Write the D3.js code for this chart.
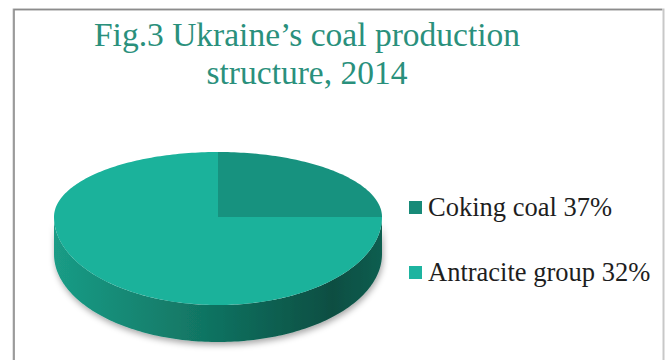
<!DOCTYPE html>
<html>
<head>
<meta charset="utf-8">
<script src="https://cdn.jsdelivr.net/npm/d3@7"></script>
<style>
  body { margin: 0; background: #fff; }
  svg { display: block; }
</style>
</head>
<body>
<svg width="669" height="360"></svg>
<script>
const titleLines = ["Fig.3 Ukraine\u2019s coal production", "structure, 2014"];
const categories = ["Coking coal", "Antracite group"];
const labelPercents = [37, 32];
// shares as drawn in the pie
const sliceShares = [25, 75];
const sliceColors = ["#17927f", "#1bb29b"];
const legendColors = ["#178a78", "#1db4a0"];

const svg = d3.select("svg");
const width = 669, height = 360;

// frame
svg.append("rect")
   .attr("x", 13.5).attr("y", 9.5)
   .attr("width", 650).attr("height", 360)
   .attr("fill", "#fff")
   .attr("stroke", "#c8c8c8")
   .attr("stroke-width", 2);
svg.append("path")
   .attr("d", "M14,360 V9.5 H662")
   .attr("fill", "none")
   .attr("stroke", "#8c8c8c")
   .attr("stroke-width", 1.5);

// title
svg.append("text")
   .attr("x", 307).attr("y", 46)
   .attr("text-anchor", "middle")
   .style("font-family", "'Liberation Serif', 'Times New Roman', serif")
   .style("font-size", "33.5px")
   .attr("fill", "#2a907c")
   .selectAll("tspan")
   .data(titleLines)
   .enter()
   .append("tspan")
   .attr("x", 307)
   .attr("dy", (d, i) => i == 0 ? 0 : 38)
   .text(d => d);

// pie geometry
const pie_area = {
    cx: 218,
    cy: 217,
    rx: 164,
    ryTop: 65,
    ryBot: 88,
    depth: 37
};

const pt = (a, dy = 0) => {
    const c = Math.cos(a);
    const ry = c > 0 ? pie_area.ryTop : pie_area.ryBot;
    return [pie_area.cx + pie_area.rx * Math.sin(a), pie_area.cy - ry * c + dy];
};

const arcPoints = (a0, a1, dy = 0) => {
    const n = Math.max(2, Math.ceil((a1 - a0) / 0.02));
    return d3.range(n + 1).map(i => pt(a0 + (a1 - a0) * i / n, dy));
};

const line = d3.line();

const defs = svg.append("defs");
const grad = defs.append("linearGradient")
    .attr("id", "sideGrad")
    .attr("gradientUnits", "userSpaceOnUse")
    .attr("x1", pie_area.cx - pie_area.rx).attr("x2", pie_area.cx + pie_area.rx)
    .attr("y1", 0).attr("y2", 0);
grad.append("stop").attr("offset", "0%").attr("stop-color", "#1a9c86");
grad.append("stop").attr("offset", "45%").attr("stop-color", "#117563");
grad.append("stop").attr("offset", "85%").attr("stop-color", "#0a4e42");
grad.append("stop").attr("offset", "100%").attr("stop-color", "#0e5e50");

const shadow = defs.append("filter")
    .attr("id", "shadow")
    .attr("x", "-10%").attr("y", "-10%")
    .attr("width", "120%").attr("height", "130%");
shadow.append("feDropShadow")
    .attr("dx", 1).attr("dy", 3)
    .attr("stdDeviation", 3)
    .attr("flood-color", "#000")
    .attr("flood-opacity", 0.35);

// side wall (front half)
const sideTop = arcPoints(Math.PI / 2, 3 * Math.PI / 2);
const sideBot = arcPoints(Math.PI / 2, 3 * Math.PI / 2, pie_area.depth).reverse();
svg.append("path")
   .attr("d", line(sideTop.concat(sideBot)) + "Z")
   .attr("fill", "url(#sideGrad)")
   .attr("filter", "url(#shadow)");

// top face slices
const arcs = d3.pie().sort(null)(sliceShares);
svg.selectAll(".slice")
   .data(arcs)
   .enter()
   .append("path")
   .attr("class", "slice")
   .attr("d", d => line([[pie_area.cx, pie_area.cy]].concat(arcPoints(d.startAngle, d.endAngle))) + "Z")
   .attr("fill", (d, i) => sliceColors[i]);

// legend
const legend = svg.selectAll(".legend")
   .data(categories)
   .enter()
   .append("g")
   .attr("class", "legend")
   .attr("transform", (d, i) => `translate(409, ${207 + i * 65})`);

legend.append("rect")
   .attr("x", 0).attr("y", -6)
   .attr("width", 13).attr("height", 13)
   .attr("fill", (d, i) => legendColors[i]);

legend.append("text")
   .attr("x", 19).attr("y", 9)
   .style("font-family", "'Liberation Serif', 'Times New Roman', serif")
   .style("font-size", "26.5px")
   .attr("fill", "#1e1e1e")
   .text((d, i) => `${d} ${labelPercents[i]}%`);
</script>
</body>
</html>
